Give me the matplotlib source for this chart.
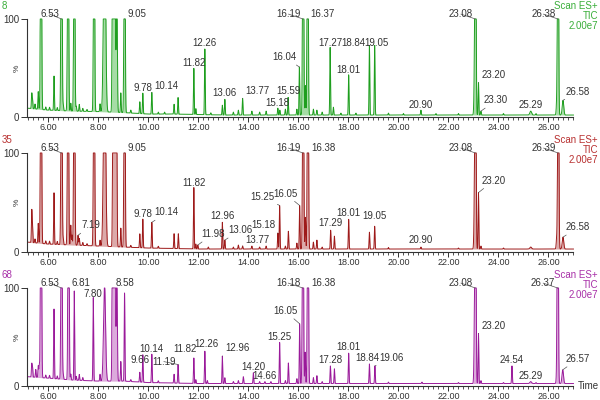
import numpy as np
import matplotlib
matplotlib.use('Agg')
import matplotlib.pyplot as plt
from matplotlib.ticker import MultipleLocator, FormatStrFormatter

plt.rcParams['font.family'] = ['Liberation Sans', 'DejaVu Sans']

# ---- scan 8 (green) ----
p1_rt = [5.34, 5.37, 5.47, 5.60, 5.71, 5.90, 6.05, 6.23, 6.36, 6.53, 6.60, 6.79, 6.90, 7.04, 7.12,
         7.24, 7.38, 7.55, 7.83, 8.07, 8.25, 8.58, 8.66, 8.74, 8.90, 9.05, 9.30, 9.66, 9.78, 10.14,
         10.40, 10.65, 11.03, 11.19, 11.82, 11.90, 12.26, 12.50, 12.96, 13.06, 13.40, 13.60, 13.77,
         14.14, 14.45, 14.71, 15.18, 15.26, 15.48, 15.59, 15.94, 16.04, 16.19, 16.28, 16.37, 16.60,
         16.74, 16.95, 17.27, 17.40, 17.70, 18.01, 18.30, 18.84, 19.05, 19.60, 20.20, 20.90, 21.50,
         22.40, 23.04, 23.08, 23.20, 23.30, 24.20, 25.29, 25.50, 26.33, 26.38, 26.58]
p1_h = [15, 10, 5, 18, 400, 3, 3, 35, 3, 400, 6, 400, 8, 400, 5,
        7, 3, 2, 400, 8, 250, 400, 400, 150, 20, 400, 3, 12, 21, 22,
        2, 2, 10, 17, 47, 6, 67, 2, 10, 16, 3, 5, 17,
        4, 3, 4, 7, 5, 6, 18, 6, 49, 400, 30, 400, 6,
        5, 3, 69, 8, 2, 41, 2, 71, 71, 2, 1.5, 5, 1.5,
        1.5, 38, 400, 33, 4, 1.5, 4, 1.5, 12, 400, 15]
p1_base_t = [5.15, 6.0, 7.0, 8.0, 9.0, 10.0, 11.0, 13.0, 27.0]
p1_base_v = [9, 7, 6, 5.5, 4.5, 3, 3, 2, 2]
p1_labels = ['6.53', '9.05', '9.78', '10.14', '11.82', '12.26', '13.06', '13.77', '15.18', '15.59',
             '16.04', '16.19', '16.37', '17.27', '18.01', '18.84', '19.05', '20.90', '23.08', '23.20',
             '23.30', '25.29', '26.38', '26.58']
p1_side = ['l', 'r', 'c', 'r', 'c', 'c', 'c', 'r', 'c', 'c',
           'l', 'l', 'r', 'c', 'c', 'l', 'c', 'c', 'l', 'r',
           'r', 'c', 'l', 'r']
p1_dy = [5, 5, 5, 7, 6, 6, 6, 8, 5, 7,
         10, 5, 5, 5, 5, 3, 3, 5, 5, 8,
         11, 6, 5, 9]
p1_nudge = {'18.84': -0.06, '19.05': 0.08}

# ---- scan 35 (dark red) ----
p2_rt = [5.34, 5.37, 5.47, 5.60, 5.71, 5.90, 6.05, 6.23, 6.36, 6.53, 6.60, 6.79, 6.90, 6.95, 7.04,
         7.19, 7.24, 7.38, 7.55, 7.83, 8.07, 8.25, 8.60, 8.66, 8.72, 8.90, 9.05, 9.30, 9.66, 9.78,
         10.14, 10.40, 11.03, 11.20, 11.82, 11.90, 11.98, 12.40, 12.96, 13.06, 13.40, 13.60, 13.77,
         14.14, 14.45, 14.71, 15.18, 15.25, 15.48, 15.60, 15.94, 16.05, 16.19, 16.28, 16.38, 16.60,
         16.74, 16.95, 17.29, 17.44, 18.01, 18.84, 19.05, 19.60, 20.90, 22.40, 23.04, 23.08, 23.20,
         23.30, 24.20, 25.29, 26.33, 26.39, 26.58]
p2_h = [32, 14, 4, 20, 400, 3, 3, 52, 3, 400, 6, 400, 20, 10, 400,
        10, 7, 3, 2, 400, 6, 250, 400, 400, 300, 19, 400, 2, 14, 29,
        26, 2, 15, 15, 62, 5, 4, 2, 27, 9, 2, 4, 3,
        3, 2, 3, 16, 44, 3, 18, 6, 44, 400, 32, 400, 7,
        9, 2, 19, 13, 30, 17, 23, 1.5, 2, 1, 45, 400, 57,
        3, 1, 2, 11, 400, 12]
p2_base_t = [5.15, 6.0, 7.0, 8.0, 9.0, 10.0, 12.0, 27.0]
p2_base_v = [10, 8, 7, 6, 5, 4, 3, 3]
p2_labels = ['6.53', '9.05', '7.19', '9.78', '10.14', '11.82', '11.98', '12.96', '13.06', '13.77',
             '15.18', '15.25', '16.05', '16.19', '16.38', '17.29', '18.01', '19.05', '20.90', '23.08',
             '23.20', '26.39', '26.58']
p2_side = ['l', 'r', 'r', 'c', 'r', 'c', 'r', 'c', 'r', 'r',
           'l', 'l', 'l', 'l', 'r', 'c', 'c', 'c', 'c', 'l',
           'r', 'l', 'r']
p2_dy = [5, 5, 10, 5, 10, 5, 11, 6, 10, 6,
         8, 9, 12, 5, 5, 7, 6, 10, 7, 5,
         12, 5, 10]
p2_nudge = {'15.25': -0.1}

# ---- scan 68 (purple) ----
p3_rt = [5.34, 5.37, 5.50, 5.60, 5.64, 5.71, 5.90, 6.05, 6.23, 6.36, 6.53, 6.60, 6.81, 6.90, 7.04,
         7.12, 7.24, 7.38, 7.80, 8.07, 8.25, 8.58, 8.66, 8.74, 8.90, 9.05, 9.30, 9.66, 9.78, 10.14,
         10.40, 11.03, 11.19, 11.82, 11.90, 12.26, 12.36, 12.96, 13.06, 13.40, 13.60, 13.80, 14.20,
         14.45, 14.66, 14.90, 15.25, 15.48, 15.60, 15.94, 16.05, 16.18, 16.27, 16.38, 16.60, 16.74,
         16.95, 17.28, 17.44, 18.01, 18.84, 19.06, 19.60, 20.94, 22.40, 23.04, 23.08, 23.20, 23.30,
         24.20, 24.54, 25.29, 25.50, 26.33, 26.37, 26.57]
p3_h = [13, 10, 8, 12, 12, 400, 3, 3, 71, 3, 400, 5, 400, 6, 91,
        4, 6, 3, 85, 7, 100, 400, 400, 120, 20, 90, 2, 10, 28, 29,
        2, 9, 19, 26, 4, 33, 3, 28, 6, 2, 3, 7, 11,
        2, 2, 2, 42, 3, 21, 5, 61, 400, 32, 400, 6, 8,
        2, 18, 15, 31, 20, 18, 1.5, 1.5, 1, 48, 400, 51, 3,
        1, 18, 2, 1, 9, 400, 14]
p3_base_t = [5.15, 6.0, 7.0, 8.0, 9.0, 10.0, 12.0, 27.0]
p3_base_v = [9.5, 8, 6, 5, 5, 3.5, 2.5, 2.5]
p3_labels = ['6.53', '6.81', '7.80', '8.58', '9.66', '10.14', '11.19', '11.82', '12.26', '12.96',
             '14.20', '14.66', '15.25', '16.05', '16.18', '16.38', '17.28', '18.01', '18.84', '19.06',
             '23.08', '23.20', '24.54', '25.29', '26.37', '26.57']
p3_side = ['l', 'r', 'c', 'r', 'c', 'c', 'l', 'c', 'c', 'r',
           'c', 'c', 'c', 'l', 'l', 'r', 'c', 'c', 'c', 'r',
           'l', 'r', 'c', 'c', 'l', 'r']
p3_dy = [5, 5, 4, 5, 13, 5, 3, 9, 7, 8,
         6, 6, 5, 13, 5, 5, 6, 6, 6, 8,
         5, 8, 6, 6, 5, 11]
p3_nudge = {'11.82': -0.34, '12.26': 0.08, '12.96': -0.02, '18.84': -0.1, '19.06': 0.04}

# broad peaks (sigma in minutes), everything else narrow
broad = {8.25: 0.04, 25.29: 0.035, 26.57: 0.03, 26.58: 0.03, 23.04: 0.02, 26.33: 0.02}

panels = [
    ('8', p1_rt, p1_h, p1_base_t, p1_base_v, p1_labels, p1_side, p1_dy, p1_nudge,
     '#1e9e1e', '#a6dca6', '#3aae3a', 117, 98),
    ('35', p2_rt, p2_h, p2_base_t, p2_base_v, p2_labels, p2_side, p2_dy, p2_nudge,
     '#9e1a1a', '#dcaaaa', '#b83030', 252, 99),
    ('68', p3_rt, p3_h, p3_base_t, p3_base_v, p3_labels, p3_side, p3_dy, p3_nudge,
     '#9a1a9a', '#dcaadc', '#a830a8', 386, 98),
]

t = np.arange(5.15, 27.0, 0.002)
fig = plt.figure(figsize=(6, 4), dpi=100)
W, H = 600.0, 400.0
Fontsize = 7

for i, (name, rt, h, bt, bv, labs, sides, dys, nudge, col, fcol, tcol, y0, px100) in enumerate(panels):
    base = np.interp(t, bt, bv)
    y = base.copy()
    for r, hh in zip(rt, h):
        w = broad.get(r, 0.02 if hh >= 100 else 0.014)
        y += hh * np.exp(-0.5 * ((t - r) / w) ** 2)
    y = np.minimum(y, 100)

    ytop = 116
    ax = fig.add_axes([27 / W, 1 - y0 / H, 546.5 / W, ytop * px100 / 100 / H])
    ax.fill_between(t, base, y, color=fcol, lw=0)
    ax.plot(t, y, color=col, lw=0.7)
    ax.set_xlim(5.15, 27.0)
    ax.set_ylim(0, ytop)
    ax.patch.set_alpha(0)
    for s in ['top', 'right']:
        ax.spines[s].set_visible(False)
    ax.spines['left'].set_bounds(0, 100)
    for s in ['left', 'bottom']:
        ax.spines[s].set_color('#333333')
        ax.spines[s].set_linewidth(0.8)
    ax.set_yticks([0, 100])
    ax.set_yticklabels(['0', '100'])
    ax.xaxis.set_major_locator(MultipleLocator(2))
    ax.xaxis.set_minor_locator(MultipleLocator(0.2))
    ax.xaxis.set_major_formatter(FormatStrFormatter('%.2f'))
    ax.tick_params(axis='y', which='major', labelsize=Fontsize, colors='#333333',
                   length=4, width=0.7, pad=1.5)
    ax.tick_params(axis='x', which='major', labelsize=6.5, colors='#333333',
                   length=3.5, width=0.7, pad=0.8)
    ax.tick_params(axis='x', which='minor', length=2, width=0.6, colors='#333333')
    ax.text(-10 / 546.5, 50, '%', transform=ax.get_yaxis_transform(), rotation=90,
            ha='center', va='center', fontsize=6, color='#333333')

    # peak labels
    for lab, side, dy in zip(labs, sides, dys):
        r = float(lab)
        top = y[np.argmin(np.abs(t - r))]
        nx = nudge.get(lab, 0)
        if side == 'c':
            ax.text(r + nx, top + dy, lab, ha='center', va='center', fontsize=Fontsize, color='#333333')
        else:
            dx = (-0.1 if side == 'l' else 0.12) + nx
            ax.annotate(lab, xy=(r, top), xytext=(r + dx, top + dy),
                        ha='right' if side == 'l' else 'left', va='center',
                        fontsize=Fontsize, color='#333333',
                        arrowprops=dict(arrowstyle='-', lw=0.5, color='#555555',
                                        shrinkA=0, shrinkB=0))

    # scan number and header
    top_px = y0 - px100 * 1.16
    fig.text(2 / W, 1 - (top_px + 3) / H, name, color=tcol, fontsize=Fontsize, ha='left', va='center')
    fig.text(598 / W, 1 - (top_px + 3) / H, 'Scan ES+', color=tcol, fontsize=Fontsize,
             ha='right', va='center')
    fig.text(598 / W, 1 - (top_px + 13) / H, 'TIC', color=tcol, fontsize=Fontsize,
             ha='right', va='center')
    fig.text(598 / W, 1 - (top_px + 23) / H, '2.00e7', color=tcol, fontsize=Fontsize,
             ha='right', va='center')

fig.text(578 / W, 1 - 386 / H, 'Time', color='#333333', fontsize=7, ha='left', va='center')

plt.savefig('out.png', dpi=100)
